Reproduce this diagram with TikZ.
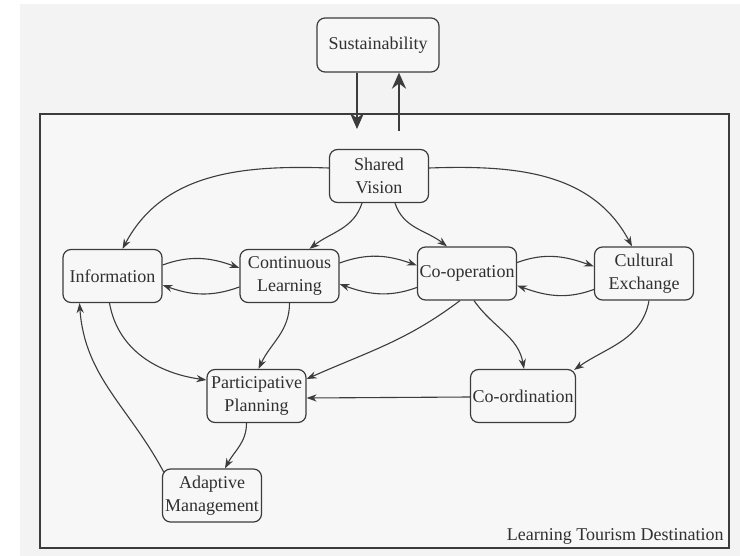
\documentclass[tikz,border=0pt]{standalone}
\usepackage{fontspec}
\setmainfont{Liberation Serif}
\usetikzlibrary{arrows.meta}
\definecolor{bggray}{HTML}{F3F3F3}
\definecolor{ingray}{HTML}{F7F7F7}
\definecolor{inkgray}{HTML}{3C3C3C}
\definecolor{txtgray}{HTML}{303030}

\begin{document}
\begin{tikzpicture}[x=0.5pt,y=-0.5pt,
  box/.style={draw=inkgray, line width=0.6pt, rounded corners=4pt, fill=ingray,
    text=txtgray, align=center, minimum width=49.5pt, minimum height=26.5pt,
    inner sep=1pt, font=\fontsize{9}{11.5}\selectfont},
  arr/.style={draw=inkgray, line width=0.55pt, -{Stealth[length=5pt,width=3.6pt]}},
  bigarr/.style={draw=inkgray, line width=1.3pt, -{Stealth[length=8pt,width=7pt]}}]

\useasboundingbox (0,0) rectangle (740,556);
\fill[bggray] (20,4) rectangle (740,556);
\draw[inkgray, line width=0.9pt, fill=ingray] (40,114) rectangle (729,548);

\node[box, minimum width=61pt, minimum height=27pt] (sust) at (378,45) {Sustainability};
\coordinate (din) at (357,129);
\coordinate (dout) at (399,131);
\draw[bigarr] ([xshift=-10.5pt]sust.south) -- (din);
\draw[bigarr] (dout) -- ([xshift=10.5pt]sust.south);

\node[box] (sv) at (379,176) {Shared\\Vision};
\node[box] (info) at (112.5,276) {Information};
\node[box] (cont) at (289.5,276) {Continuous\\Learning};
\node[box] (coop) at (467,273.5) {Co-operation};
\node[box] (cult) at (644,273.5) {Cultural\\Exchange};
\node[box] (part) at (256.5,396) {Participative\\Planning};
\node[box] (coord) at (523,396) {Co-ordination};
\node[box] (adapt) at (212,495.5) {Adaptive\\Management};
\node[anchor=base east, text=txtgray, inner sep=0pt, font=\fontsize{9}{11}\selectfont] (ltd) at (724,540) {Learning Tourism Destination};

\draw[arr] ([yshift=4pt]sv.west) to[out=178,in=62] ([xshift=5pt]info.north);
\draw[arr] ([yshift=4pt]sv.east) to[out=2,in=118] ([xshift=-6pt]cult.north);
\draw[arr] ([xshift=-8.5pt]sv.south) to[out=-108,in=38] ([xshift=10pt]cont.north);
\draw[arr] ([xshift=8pt]sv.south) to[out=-72,in=142] ([xshift=-10pt]coop.north);

\draw[arr] ([yshift=5.5pt]info.east) to[out=20,in=160] ([yshift=4pt]cont.west);
\draw[arr] ([yshift=-5.5pt]cont.west) to[out=200,in=-20] ([yshift=-4.5pt]info.east);
\draw[arr] ([yshift=6.5pt]cont.east) to[out=20,in=160] ([yshift=4pt]coop.west);
\draw[arr] ([yshift=-7pt]coop.west) to[out=200,in=-20] ([yshift=-4pt]cont.east);
\draw[arr] ([yshift=5.5pt]coop.east) to[out=20,in=160] ([yshift=3.5pt]cult.west);
\draw[arr] ([yshift=-8pt]cult.west) to[out=200,in=-20] ([yshift=-6pt]coop.east);

\draw[arr] ([xshift=-1.5pt]info.south) to[out=-80,in=172] ([yshift=8pt]part.west);
\draw[arr] (cont.south) to[out=-90,in=65] ([xshift=1pt]part.north);
\draw[arr] ([xshift=-3.5pt]coop.south) to[out=-143,in=24] ([yshift=8.5pt]part.east);
\draw[arr] ([xshift=3.5pt]coop.south) to[out=-55,in=100] ([xshift=0.5pt]coord.north);
\draw[arr] ([xshift=2.5pt]cult.south) to[out=-100,in=35] ([xshift=-1pt,yshift=-0.5pt]coord.north east);
\draw[arr] ([yshift=-0.5pt]coord.west) -- ([yshift=-1pt]part.east);
\draw[arr] ([xshift=-5pt]part.south) to[out=-90,in=62] ([xshift=6.5pt]adapt.north);
\draw[arr] ([xshift=1pt,yshift=-2pt]adapt.north west) to[out=118,in=-86] ([xshift=-16.5pt]info.south);
\end{tikzpicture}
\end{document}
